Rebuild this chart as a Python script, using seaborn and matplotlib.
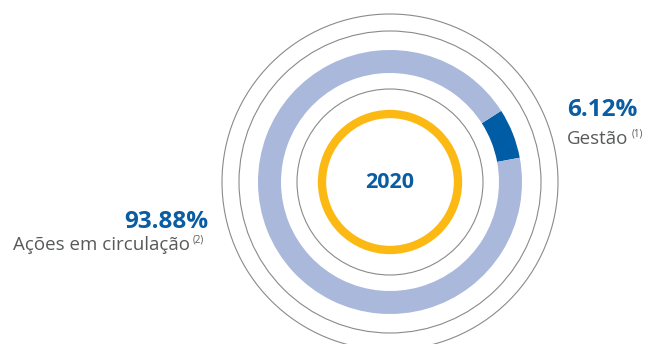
import matplotlib
matplotlib.use("Agg")
import matplotlib.pyplot as plt
import seaborn as sns
from matplotlib.patches import Circle

# ---- data ----
categories = ["Gestão", "Ações em circulação"]
notes = ["(1)", "(2)"]
values = [6.12, 93.88]
year = "2020"

sns.set_theme(style="white")
plt.rcParams["font.family"] = ["Open Sans", "DejaVu Sans"]

seg_colors = ["#005CA4", "#A9B8DB"]
blue_txt = "#0A5CA3"
gray_txt = "#58595B"

W, H = 649, 344
fig = plt.figure(figsize=(W / 100, H / 100), dpi=100)
ax = fig.add_axes([0, 0, 1, 1])

cx, cy = 390, 344 - 182

# donut: dark segment from ~10.6 deg counterclockwise
ax.pie(values, colors=seg_colors, startangle=10.6, counterclock=True,
       center=(cx, cy), radius=132,
       wedgeprops=dict(width=23, linewidth=0))

# thin gray concentric circles
for r in [168, 151, 93]:
    ax.add_patch(Circle((cx, cy), r, fill=False, edgecolor="#8a8a8a", linewidth=0.8))

# orange ring
ax.add_patch(Circle((cx, cy), 68, fill=False, edgecolor="#FDB913", linewidth=6))

ax.set_xlim(0, W)
ax.set_ylim(0, H)
ax.set_aspect("equal")
ax.axis("off")

ax.text(cx, cy, year, ha="center", va="center", fontsize=15.5, fontweight="bold", color=blue_txt)

# right label (Gestão)
ax.text(567, H - 116, f"{values[0]:.2f}%", ha="left", va="baseline", fontsize=17.5,
        fontweight="bold", color=blue_txt)
ax.text(567, H - 144, categories[0], ha="left", va="baseline", fontsize=13.5, color=gray_txt)
ax.text(632, H - 137, notes[0], ha="left", va="baseline", fontsize=7, color=gray_txt)

# left label (Ações em circulação)
ax.text(208, H - 228, f"{values[1]:.2f}%", ha="right", va="baseline", fontsize=17.5,
        fontweight="bold", color=blue_txt)
ax.text(190, H - 250, categories[1], ha="right", va="baseline", fontsize=13.5, color=gray_txt)
ax.text(193, H - 243, notes[1], ha="left", va="baseline", fontsize=7, color=gray_txt)

fig.savefig("out.png", dpi=100)
